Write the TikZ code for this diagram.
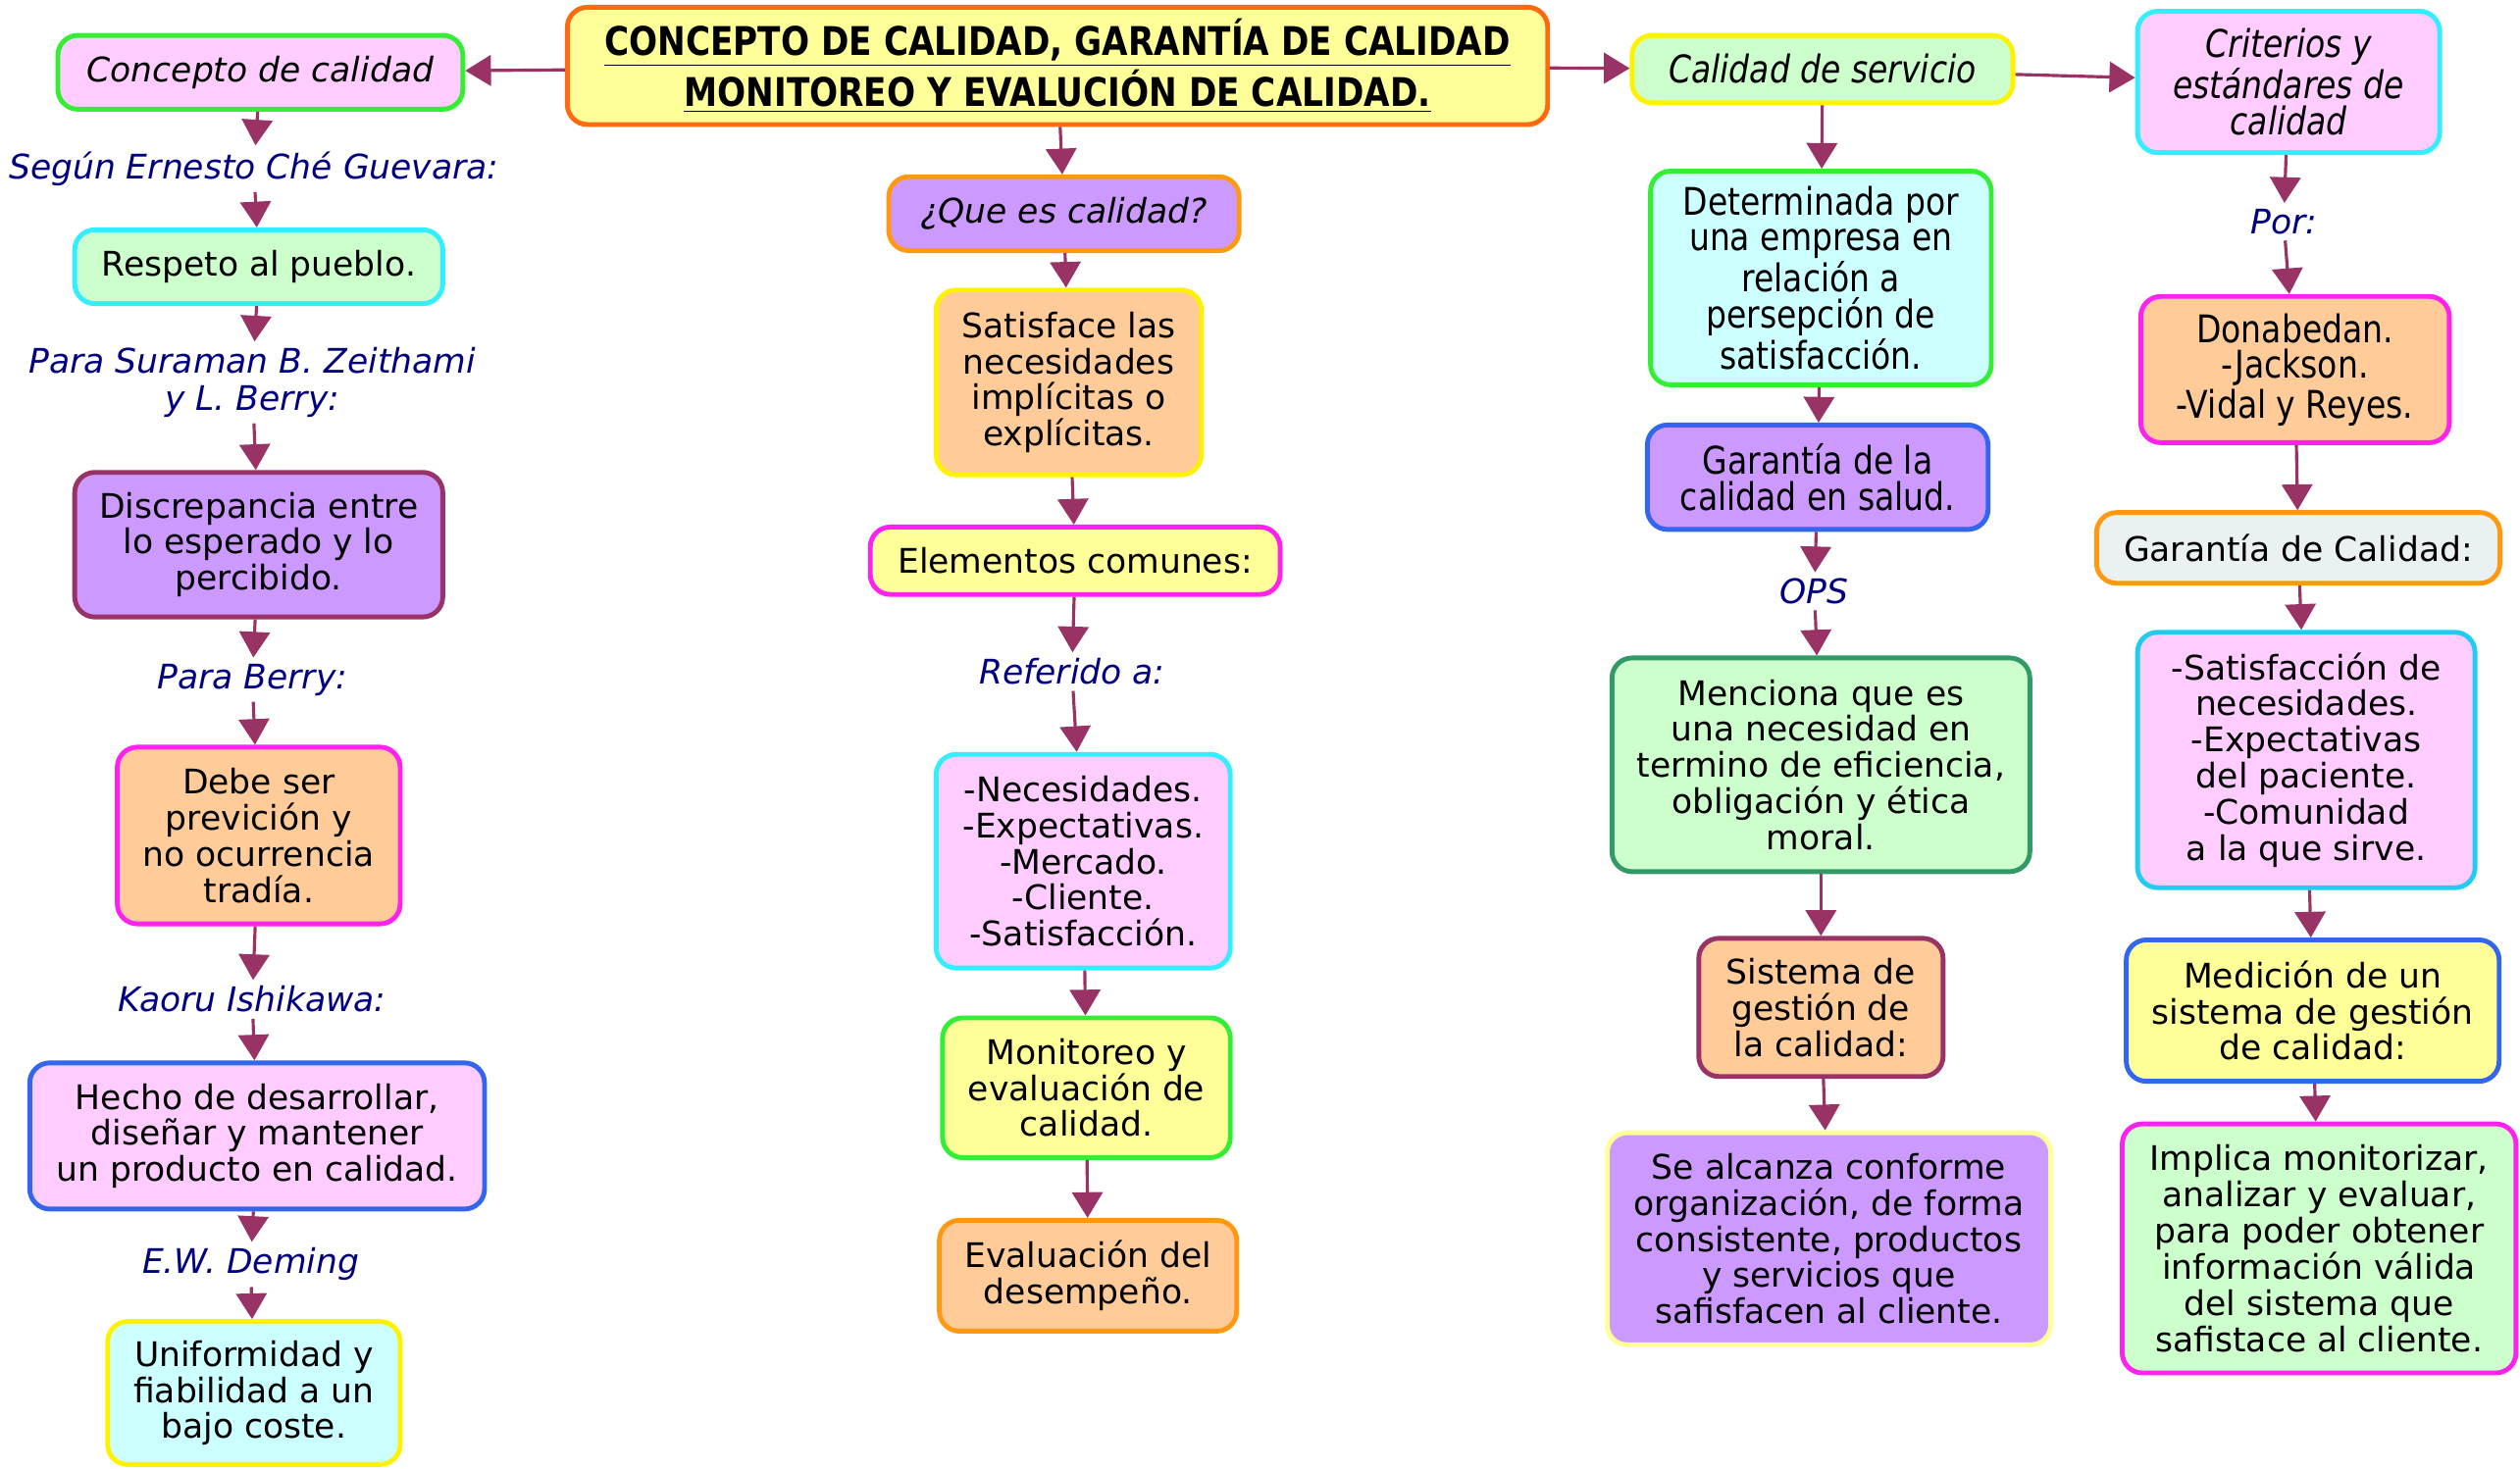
\documentclass[tikz,border=0pt]{standalone}
\usepackage{fontspec}
\usepackage{tikz}
\usetikzlibrary{arrows.meta}

\setmainfont{DejaVu Sans}
\newfontfamily\estrecha[FakeStretch=0.85]{DejaVu Sans}

\definecolor{rosa}{HTML}{FFCCFF}
\definecolor{verdeclaro}{HTML}{CCFFCC}
\definecolor{celeste}{HTML}{CCFFFF}
\definecolor{lila}{HTML}{CC99FF}
\definecolor{salmon}{HTML}{FFCC99}
\definecolor{crema}{HTML}{FFFF99}
\definecolor{gris}{HTML}{EAF1F2}
\definecolor{verde}{HTML}{33EE33}
\definecolor{cian}{HTML}{33EEFF}
\definecolor{cianb}{HTML}{22CCF0}
\definecolor{vino}{HTML}{993366}
\definecolor{magenta}{HTML}{FF22EE}
\definecolor{azul}{HTML}{3366EE}
\definecolor{amarillo}{HTML}{FFF200}
\definecolor{naranja}{HTML}{FF9911}
\definecolor{naranjaosc}{HTML}{FF6A10}
\definecolor{verdeosc}{HTML}{339966}
\definecolor{marino}{HTML}{000080}

\tikzset{
	caja/.style={draw, rounded corners=0.25cm, line width=1.7pt, align=center, inner sep=2pt},
	tam/.style 2 args={minimum width=#1*0.02cm, minimum height=#2*0.02cm},
	etiq/.style={text=marino, font=\fontsize{12}{13}\selectfont\itshape, align=center, inner sep=2pt},
	flecha/.style={-{Triangle[width=0.38cm,length=0.32cm]}, line width=1.1pt, color=vino}
}

\begin{document}
\begin{tikzpicture}[x=0.02cm, y=-0.02cm, font=\fontsize{12}{12.8}\selectfont]
	
	\useasboundingbox (0,0) rectangle (1568,914);
	
	% titulo
	\node[caja, tam={610}{73}, fill=crema, draw=naranjaosc, font=\estrecha\bfseries\fontsize{14}{13.5}\selectfont] (titulo) at (658,41)
		{\underline{CONCEPTO DE CALIDAD, GARANTÍA DE CALIDAD}\\ \underline{MONITOREO Y EVALUCIÓN DE CALIDAD.}};
	
	% columna izquierda
	\node[caja, tam={252}{46}, fill=rosa, draw=verde, font=\fontsize{12}{12.8}\selectfont\itshape] (concepto) at (162,45) {Concepto de calidad};
	\node[etiq] (guevara) at (158,105) {Según Ernesto Ché Guevara:};
	\node[caja, tam={229}{46}, fill=verdeclaro, draw=cian] (respeto) at (161,166) {Respeto al pueblo.};
	\node[etiq] (zeithami) at (157,238) {Para Suraman B. Zeithami\\ y L. Berry:};
	\node[caja, tam={229}{90}, fill=lila, draw=vino] (discrepancia) at (161,339) {Discrepancia entre\\ lo esperado y lo\\ percibido.};
	\node[etiq] (berry) at (157,423) {Para Berry:};
	\node[caja, tam={176}{110}, fill=salmon, draw=magenta] (debe) at (161,520) {Debe ser\\ previción y\\ no ocurrencia\\ tradía.};
	\node[etiq] (ishikawa) at (157,622) {Kaoru Ishikawa:};
	\node[caja, tam={283}{91}, fill=rosa, draw=azul] (hecho) at (160,707) {Hecho de desarrollar,\\ diseñar y mantener\\ un producto en calidad.};
	\node[etiq] (deming) at (156,787) {E.W. Deming};
	\node[caja, tam={182}{89}, fill=celeste, draw=amarillo] (uniformidad) at (158,867) {Uniformidad y\\ fiabilidad a un\\ bajo coste.};
	
	% columna central
	\node[caja, tam={218}{46}, fill=lila, draw=naranja, font=\fontsize{12}{12.8}\selectfont\itshape] (quees) at (662,133) {¿Que es calidad?};
	\node[caja, tam={165}{115}, fill=salmon, draw=amarillo] (satisface) at (665,238) {Satisface las\\ necesidades\\ implícitas o\\ explícitas.};
	\node[caja, tam={255}{42}, fill=crema, draw=magenta] (elementos) at (669,349) {Elementos comunes:};
	\node[etiq] (referido) at (667,418) {Referido a:};
	\node[caja, tam={183}{133}, fill=rosa, draw=cian] (necesidades) at (674,536) {-Necesidades.\\ -Expectativas.\\ -Mercado.\\ -Cliente.\\ -Satisfacción.};
	\node[caja, tam={179}{87}, fill=crema, draw=verde] (monitoreo) at (676,677) {Monitoreo y\\ evaluación de\\ calidad.};
	\node[caja, tam={185}{69}, fill=salmon, draw=naranja] (evaluacion) at (677,794) {Evaluación del\\ desempeño.};
	
	% columna servicio
	\node[caja, tam={237}{42}, fill=verdeclaro, draw=amarillo, font=\estrecha\itshape\fontsize{13.5}{13}\selectfont] (servicio) at (1134,43) {Calidad de servicio};
	\node[caja, tam={212}{133}, fill=celeste, draw=verde, font=\estrecha\fontsize{13.5}{12.8}\selectfont] (determinada) at (1133,173) {Determinada por\\ una empresa en\\ relación a\\ persepción de\\ satisfacción.};
	\node[caja, tam={212}{65}, fill=lila, draw=azul, font=\estrecha\fontsize{13.5}{12.8}\selectfont] (salud) at (1131,297) {Garantía de la\\ calidad en salud.};
	\node[etiq] (ops) at (1129,368) {OPS};
	\node[caja, tam={260}{133}, fill=verdeclaro, draw=verdeosc] (menciona) at (1133,476) {Menciona que es\\ una necesidad en\\ termino de eficiencia,\\ obligación y ética\\ moral.};
	\node[caja, tam={152}{86}, fill=salmon, draw=vino] (sistema) at (1133,627) {Sistema de\\ gestión de\\ la calidad:};
	\node[caja, tam={276}{132}, fill=lila, draw=crema] (alcanza) at (1138,771) {Se alcanza conforme\\ organización, de forma\\ consistente, productos\\ y servicios que\\ safisfacen al cliente.};
	
	% columna criterios
	\node[caja, tam={188}{88}, fill=rosa, draw=cian, font=\estrecha\itshape\fontsize{13.5}{12.8}\selectfont] (criterios) at (1424,51) {Criterios y\\ estándares de\\ calidad};
	\node[etiq] (por) at (1421,138) {Por:};
	\node[caja, tam={192}{91}, fill=salmon, draw=magenta, font=\estrecha\fontsize{13.5}{12.8}\selectfont] (donabedan) at (1428,230) {Donabedan.\\ -Jackson.\\ -Vidal y Reyes.};
	\node[caja, tam={251}{44}, fill=gris, draw=naranja] (garantia) at (1430,341) {Garantía de Calidad:};
	\node[caja, tam={210}{159}, fill=rosa, draw=cianb] (satisfaccion) at (1435,473) {-Satisfacción de\\ necesidades.\\ -Expectativas\\ del paciente.\\ -Comunidad\\ a la que sirve.};
	\node[caja, tam={232}{88}, fill=crema, draw=azul] (medicion) at (1439,629) {Medición de un\\ sistema de gestión\\ de calidad:};
	\node[caja, tam={245}{155}, fill=verdeclaro, draw=magenta] (implica) at (1443,777) {Implica monitorizar,\\ analizar y evaluar,\\ para poder obtener\\ información válida\\ del sistema que\\ safistace al cliente.};
	
	\path[flecha] (titulo) edge (concepto);
	\path[flecha] (titulo) edge (quees);
	\path[flecha] (titulo) edge (servicio);
	\path[flecha] (servicio) edge (criterios);
	
	\path[flecha] (concepto) edge (guevara);
	\path[flecha] (guevara) edge (respeto);
	\path[flecha] (respeto) edge (zeithami);
	\path[flecha] (zeithami) edge (discrepancia);
	\path[flecha] (discrepancia) edge (berry);
	\path[flecha] (berry) edge (debe);
	\path[flecha] (debe) edge (ishikawa);
	\path[flecha] (ishikawa) edge (hecho);
	\path[flecha] (hecho) edge (deming);
	\path[flecha] (deming) edge (uniformidad);
	
	\path[flecha] (quees) edge (satisface);
	\path[flecha] (satisface) edge (elementos);
	\path[flecha] (elementos) edge (referido);
	\path[flecha] (referido) edge (necesidades);
	\path[flecha] (necesidades) edge (monitoreo);
	\path[flecha] (monitoreo) edge (evaluacion);
	
	\path[flecha] (servicio) edge (determinada);
	\path[flecha] (determinada) edge (salud);
	\path[flecha] (salud) edge (ops);
	\path[flecha] (ops) edge (menciona);
	\path[flecha] (menciona) edge (sistema);
	\path[flecha] (sistema) edge (alcanza);
	
	\path[flecha] (criterios) edge (por);
	\path[flecha] (por) edge (donabedan);
	\path[flecha] (donabedan) edge (garantia);
	\path[flecha] (garantia) edge (satisfaccion);
	\path[flecha] (satisfaccion) edge (medicion);
	\path[flecha] (medicion) edge (implica);

\end{tikzpicture}
\end{document}
